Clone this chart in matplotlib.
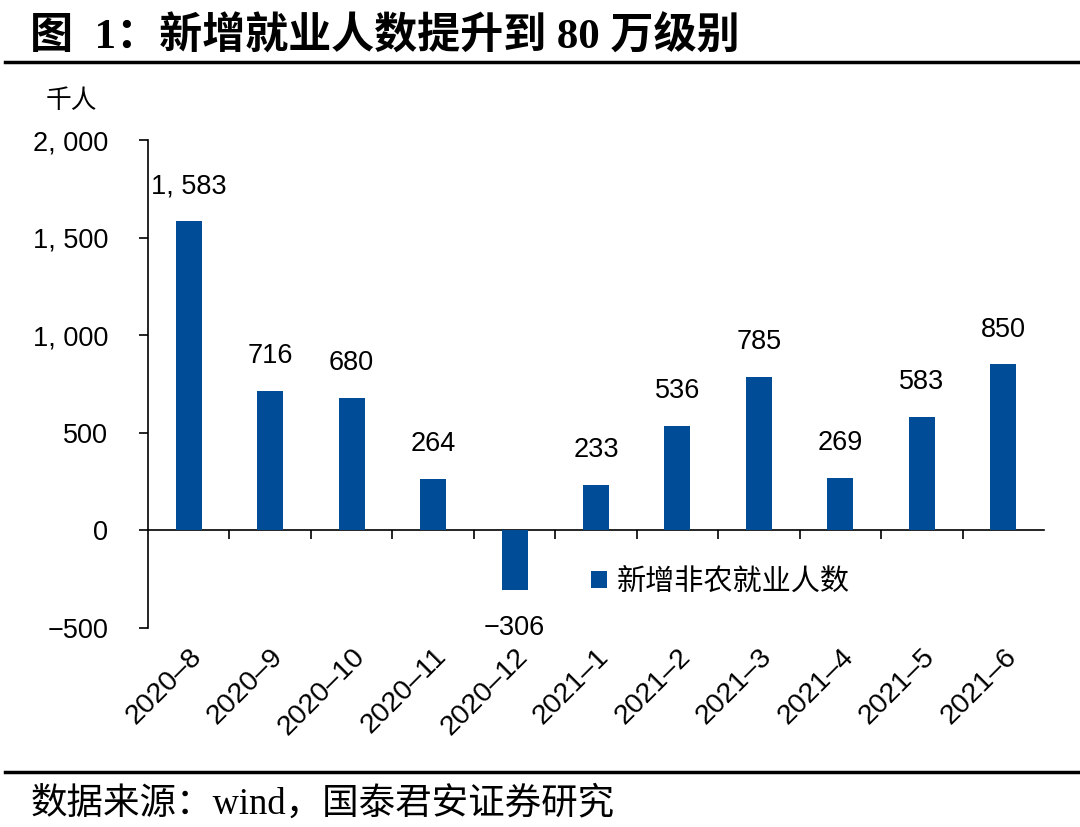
import matplotlib
matplotlib.use("Agg")
import matplotlib.pyplot as plt
from matplotlib.ticker import FuncFormatter, FixedLocator

plt.rcParams['font.family'] = ['Liberation Sans', 'Noto Sans CJK SC', 'DejaVu Sans']

months = ["2020-8", "2020-9", "2020-10", "2020-11", "2020-12", "2021-1",
          "2021-2", "2021-3", "2021-4", "2021-5", "2021-6"]
jobs = [1583, 716, 680, 264, -306, 233, 536, 785, 269, 583, 850]
yticks = [-500, 0, 500, 1000, 1500, 2000]

bar_color = "#004C97"
cjk = ['Noto Sans CJK SC', 'DejaVu Sans']
serif_cjk = ['Liberation Serif', 'Noto Sans CJK SC']


def fmt(v):
    # "1, 583" style with a proper minus sign
    return f"{int(v):,}".replace(",", ", ").replace("-", "\u2212")


fig = plt.figure(figsize=(10.8, 8.27), dpi=100)
ax = fig.add_axes([0.137, 0.2406, 0.8297, 0.5901])

x = list(range(len(months)))
ax.bar(x, jobs, width=0.32, color=bar_color, label="新增非农就业人数", zorder=2)

for xi, v in zip(x, jobs):
    off = 25 if v >= 0 else -27
    ax.annotate(fmt(v), (xi, v), xytext=(0, off),
                textcoords="offset points", ha="center", va="center", fontsize=19.5)

ax.set_xlim(-0.5, len(months) - 0.5)
ax.set_ylim(-500, 2000)
ax.set_yticks(yticks)
ax.yaxis.set_major_formatter(FuncFormatter(lambda v, p: fmt(v)))
ax.tick_params(axis="y", direction="out", length=6.5, width=1.2, labelsize=19.5, pad=22)

ax.set_xticks(x)
ax.set_xticklabels([m.replace("-", "\u2013") for m in months], rotation=45, ha="right",
                   rotation_mode="anchor", fontsize=20.5)
ax.tick_params(axis="x", length=0, pad=11)

for s in ["top", "right", "bottom"]:
    ax.spines[s].set_visible(False)
ax.spines["left"].set_linewidth(1.2)

# zero line with ticks between categories
zero = ax.secondary_xaxis(0.2)
zero.xaxis.set_major_locator(FixedLocator([i + 0.5 for i in x[:-1]]))
zero.tick_params(axis="x", direction="out", length=6.5, width=1.2, labelbottom=False)
zero.spines["bottom"].set_linewidth(1.2)

leg = ax.legend(loc="center left", bbox_to_anchor=(0.465, 0.095), frameon=False,
                prop={"family": cjk, "size": 21}, handlelength=0.55, handleheight=0.55,
                handletextpad=0.35)

fig.text(0.028, 0.955, "图  1：新增就业人数提升到 80 万级别", fontsize=31, fontweight="bold",
         family=serif_cjk, va="center", ha="left")
fig.add_artist(plt.Line2D([0.005, 1.0], [0.925, 0.925], color="black", lw=2.5))
fig.text(0.042, 0.878, "千人", fontsize=18.5, family=cjk, va="center", ha="left")
fig.add_artist(plt.Line2D([0.005, 1.0], [0.066, 0.066], color="black", lw=2.5))
fig.text(0.028, 0.028, "数据来源：wind，国泰君安证券研究", fontsize=26.3,
         family=serif_cjk, va="center", ha="left")

fig.savefig("out.png", dpi=100)
